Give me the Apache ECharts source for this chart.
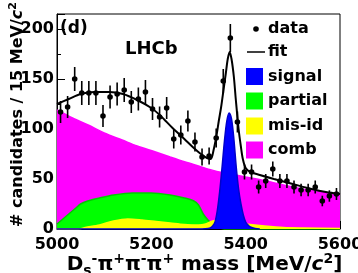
<!DOCTYPE html>
<html>
<head>
<meta charset="utf-8">
<script src="https://cdn.jsdelivr.net/npm/echarts@6/dist/echarts.min.js"></script>
<style>
html,body{margin:0;padding:0;background:#fff;}
#chart{width:358px;height:273px;}
</style>
</head>
<body>
<div id="chart"></div>
<script>
// ---- data ----
const binCenters = [5007.5,5022.5,5037.5,5052.5,5067.5,5082.5,5097.5,5112.5,5127.5,5142.5,
  5157.5,5172.5,5187.5,5202.5,5217.5,5232.5,5247.5,5262.5,5277.5,5292.5,
  5307.5,5322.5,5337.5,5352.5,5367.5,5382.5,5397.5,5412.5,5427.5,5442.5,
  5457.5,5472.5,5487.5,5502.5,5517.5,5532.5,5547.5,5562.5,5577.5,5592.5];
const dataCounts = [117,122,150,136,136,136,113,132,135,139,
  127,130,137,120,112,121,90,94,108,87,
  72,73,91,148,191,107,57,57,42,48,
  60,48,48,42,39,39,42,28,33,35];
const dataErrors = [11,11,12,12,12,12,11,11.5,11.5,12,
  11,11.5,12,11,10.5,11,9.5,9.5,10.5,9.5,
  8.5,8.5,9.5,12,14,10.5,7.5,7.5,6.5,7,
  7.5,7,7,6.5,6.2,6.2,6.5,5.3,5.7,6];

const fitMass = [5000,5025,5050,5080,5110,5140,5170,5200,5220,5245,5270,5290,5305,5318,5326,5332,5338,5343,5348,5353,5358,5362,5366,5370,5375,5379,5385,5390,5394,5400,5410,5430,5460,5500,5540,5570,5600];
const fitValues = [125,130,135,137,137,135,129,121,113,101,90,81,75,71,70,79,93,108,122,139,156,170,177,170,152,130,100,82,70,61,57,54,50,45,40,37,35];

const combMass = [5000,5033,5066,5100,5138,5170,5209,5240,5272,5300,5335,5368,5400,5443,5480,5520,5560,5600];
const combValues = [119,111,104,96,89,83,77,72,67,63,58,55,52,48,44,40,37,34];

const partialMass = [5000,5010,5020,5030,5040,5050,5065,5090,5120,5160,5200,5240,5270,5290,5300,5310,5320,5330,5340,5350,5360,5600];
const partialValues = [5,9,13,17,21,25,28,31,34,36,36,34,31,28,24,15,9,5,2,0.5,0,0];

const misidMass = [5000,5045,5060,5090,5120,5150,5180,5210,5240,5270,5300,5315,5330,5345,5370,5400,5440,5480,5520,5600];
const misidValues = [0,0,1.5,4,8,10,9,7.5,6,4.5,4,5,8,9,7,5,3,1.5,1,0.5];

const signalMass = [5000,5300,5320,5325,5330,5335,5340,5345,5350,5355,5360,5365,5370,5375,5380,5385,5390,5395,5400,5405,5410,5420,5430];
const signalValues = [0,0,0.5,1,3,7,19,38,62,88,108,116,110,90,62,40,25,14,7,4,2,0.5,0];

const xTicks = {min:5000, max:5600, interval:200};
const yTicks = {min:0, max:215, interval:50};

const legendItems = ['data','fit','signal','partial','mis-id','comb'];
const legendColors = {signal:'#0000ff', partial:'#00ff00', 'mis-id':'#ffff00', comb:'#ff00ff'};

// ---- build ----
const zip = (a,b) => a.map((v,i)=>[v,b[i]]);
const FONT = 'DejaVu Sans';
const chart = echarts.init(document.getElementById('chart'), null, {renderer:'canvas'});

function areaSeries(name, mass, vals, color, lineColor, z){
  return {
    name, type:'line', data: zip(mass, vals), smooth:0.3, showSymbol:false, symbol:'none',
    lineStyle:{color: lineColor, width:1.5}, areaStyle:{color, opacity:1}, z, silent:true
  };
}

const legendGraphics = [];
const lx = 246, lTextX = 268;
const lY = [29, 52, 76.5, 101, 126, 150];
legendItems.forEach((name,i)=>{
  const y = lY[i];
  if(name==='data'){
    legendGraphics.push({type:'circle', shape:{cx:256, cy:y, r:2.8}, style:{fill:'#000'}});
  } else if(name==='fit'){
    legendGraphics.push({type:'line', shape:{x1:247, y1:y, x2:265, y2:y}, style:{stroke:'#000', lineWidth:1.5}});
  } else {
    legendGraphics.push({type:'rect', shape:{x:lx, y:y-8.5, width:17, height:17}, style:{fill:legendColors[name]}});
  }
  legendGraphics.push({type:'text', x:lTextX, y:y, style:{text:name, font:'bold 16px "DejaVu Sans"', fill:'#000', textVerticalAlign:'middle', textAlign:'left'}});
});

const option = {
  animation:false,
  backgroundColor:'#fff',
  grid:{left:57, right:18, top:14, bottom:44, show:true, borderColor:'#000', borderWidth:1, backgroundColor:'transparent', containLabel:false, outerBoundsMode:'none'},
  xAxis:{
    type:'value', min:xTicks.min, max:xTicks.max, interval:xTicks.interval,
    axisLine:{show:true, onZero:false, lineStyle:{color:'#000', width:1}},
    axisTick:{show:true, inside:true, length:8, lineStyle:{color:'#000', width:1}},
    minorTick:{show:true, splitNumber:4, length:4, lineStyle:{color:'#000', width:1}},
    splitLine:{show:false},
    axisLabel:{color:'#000', fontFamily:FONT, fontWeight:'bold', fontSize:16, margin:8, formatter:v=>String(v)},
    name:'{b|D}{sub|s}{sup|-}{b|π}{sup|+}{b|π}{sup|-}{b|π}{sup|+}{b| mass [MeV/}{it|c}{sup|2}{b|]}',
    nameLocation:'middle', nameGap:23, nameMoveOverlap:false,
    nameTextStyle:{padding:[0,0,0,12],
      rich:{
        b:{fontFamily:FONT, fontWeight:'bold', fontSize:20, color:'#000'},
        it:{fontFamily:FONT, fontWeight:'bold', fontStyle:'italic', fontSize:20, color:'#000'},
        sub:{fontFamily:FONT, fontWeight:'bold', fontSize:14, color:'#000', verticalAlign:'bottom', padding:[12,0,0,0]},
        sup:{fontFamily:FONT, fontWeight:'bold', fontSize:14, color:'#000', verticalAlign:'top', padding:[0,0,10,0]}
      }}
  },
  yAxis:{
    type:'value', min:yTicks.min, max:yTicks.max, interval:yTicks.interval,
    axisLine:{show:true, onZero:false, lineStyle:{color:'#000', width:1}},
    axisTick:{show:true, inside:true, length:8, lineStyle:{color:'#000', width:1}},
    minorTick:{show:true, splitNumber:2, length:4, lineStyle:{color:'#000', width:1}},
    splitLine:{show:false},
    axisLabel:{color:'#000', fontFamily:FONT, fontWeight:'bold', fontSize:16, margin:3, showMaxLabel:false},
    name:'{b|# candidates / 15 MeV/}{it|c}{sup|2}',
    nameLocation:'middle', nameGap:30, nameRotate:90, nameMoveOverlap:false,
    nameTextStyle:{padding:[0,0,0,14],
      rich:{
        b:{fontFamily:FONT, fontWeight:'bold', fontSize:16, color:'#000'},
        it:{fontFamily:FONT, fontWeight:'bold', fontStyle:'italic', fontSize:16, color:'#000'},
        sup:{fontFamily:FONT, fontWeight:'bold', fontSize:11, color:'#000', verticalAlign:'top', padding:[0,0,8,0]}
      }}
  },
  series:[
    areaSeries('comb', combMass, combValues, '#ff00ff', '#ff00ff', 1),
    areaSeries('partial', partialMass, partialValues, '#00ff00', '#00cc00', 2),
    areaSeries('mis-id', misidMass, misidValues, '#ffff00', '#ffff00', 3),
    areaSeries('signal', signalMass, signalValues, '#0000ff', '#0000cc', 4),
    {
      name:'fit', type:'line', data: zip(fitMass, fitValues), smooth:0.3, showSymbol:false, symbol:'none',
      lineStyle:{color:'#000', width:2}, z:5, silent:true
    },
    {
      name:'data', type:'custom', z:6, silent:true,
      data: binCenters.map((m,i)=>[m, dataCounts[i], dataErrors[i]]),
      renderItem:(params, api)=>{
        const x = api.value(0), y = api.value(1), e = api.value(2);
        const p = api.coord([x,y]);
        const lo = api.coord([x,y-e]);
        const hi = api.coord([x,y+e]);
        return {type:'group', children:[
          {type:'line', shape:{x1:p[0], y1:lo[1], x2:p[0], y2:hi[1]}, style:{stroke:'#000', lineWidth:1.6}},
          {type:'circle', shape:{cx:p[0], cy:p[1], r:2.8}, style:{fill:'#000'}}
        ]};
      }
    }
  ],
  graphic:[
    {type:'text', x:60, y:29, style:{text:'(d)', font:'bold 17px "DejaVu Sans"', fill:'#000', textVerticalAlign:'middle'}},
    {type:'text', x:125, y:49, style:{text:'LHCb', font:'bold 18px "DejaVu Sans"', fill:'#000', textVerticalAlign:'middle'}},
    ...legendGraphics
  ]
};
chart.setOption(option);
</script>
</body>
</html>
